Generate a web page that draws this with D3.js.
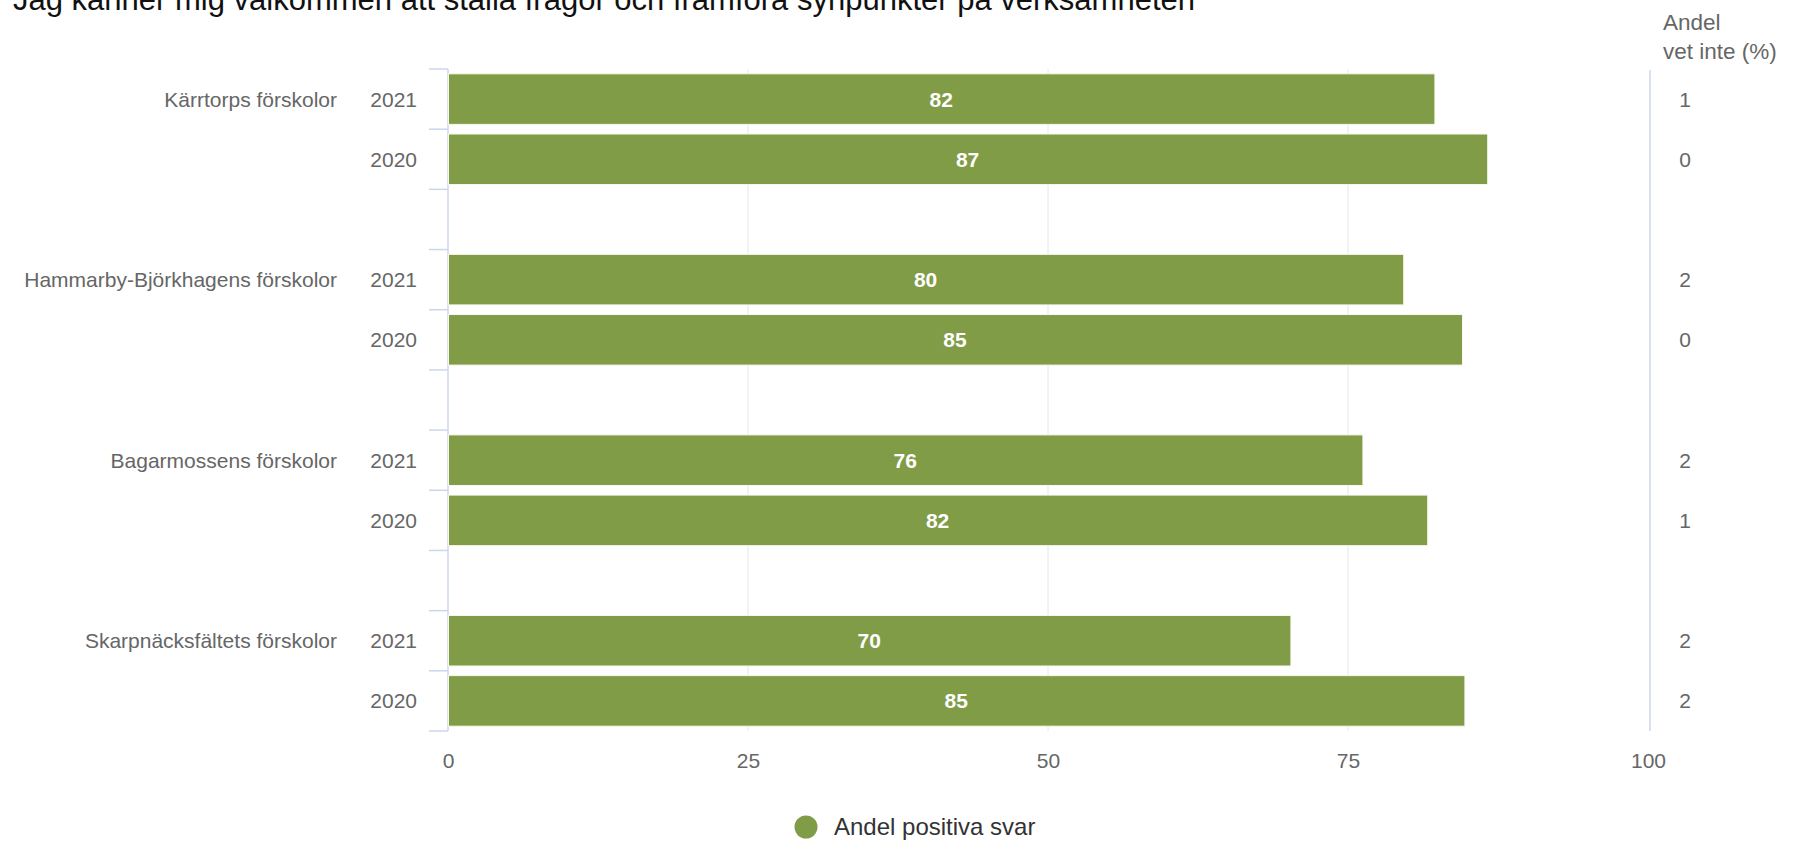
<!DOCTYPE html>
<html>
<head>
<meta charset="utf-8">
<script src="https://cdn.jsdelivr.net/npm/d3@7"></script>
<style>
  html, body { margin: 0; padding: 0; background: #fff; overflow: hidden; }
  svg { display: block; font-family: "Liberation Sans", Arial, Helvetica, sans-serif; }
</style>
</head>
<body>
<svg id="chart" width="1798" height="841"></svg>
<script>
const title = "Jag känner mig välkommen att ställa frågor och framföra synpunkter på verksamheten";
const schools = ["Kärrtorps förskolor", "Hammarby-Björkhagens förskolor", "Bagarmossens förskolor", "Skarpnäcksfältets förskolor"];
const years = ["2021", "2020"];
const positive2021 = [82.2, 79.6, 76.2, 70.2];
const positive2020 = [86.6, 84.5, 81.6, 84.7];
const dontKnow2021 = [1, 2, 2, 2];
const dontKnow2020 = [0, 0, 1, 2];
const xTicks = [0, 25, 50, 75, 100];
const seriesName = "Andel positiva svar";
const sideHeader = ["Andel", "vet inte (%)"];

(function () {
// build row table (with spacer rows between groups)
const rows = [];
schools.forEach((s, i) => {
  rows.push({ key: s + "|2021", school: s, year: years[0], value: positive2021[i], dk: dontKnow2021[i], first: true });
  rows.push({ key: s + "|2020", school: s, year: years[1], value: positive2020[i], dk: dontKnow2020[i], first: false });
  if (i < schools.length - 1) rows.push({ key: "spacer" + i, spacer: true });
});

const svg = d3.select("#chart");
const green = "#819c46";
const grey = "#666666";

const plotTop = 69, plotBottom = 731;
const x = d3.scaleLinear().domain([0, 100]).range([448, 1648]);
const y = d3.scaleBand().domain(rows.map(r => r.key)).range([plotTop, plotBottom]).paddingInner(0.16).paddingOuter(0.08);

// title (cut at top edge as in the reference)
svg.append("text").attr("x", 13).attr("y", 9.5)
  .attr("font-size", 31).attr("fill", "#111").text(title);

// grid lines
svg.append("g").selectAll("line").data(xTicks.filter(t => t > 0 && t < 100)).join("line")
  .attr("x1", d => x(d)).attr("x2", d => x(d))
  .attr("y1", plotTop).attr("y2", plotBottom)
  .attr("stroke", "#e6e6e6").attr("stroke-width", 1);

// x-axis labels via d3 axis
const xAxis = svg.append("g").attr("transform", `translate(0,${plotBottom})`)
  .call(d3.axisBottom(x).tickValues(xTicks).tickSize(0).tickPadding(22));
xAxis.select(".domain").remove();
xAxis.selectAll("text").attr("font-size", 21).attr("fill", grey)
  .attr("font-family", "Liberation Sans, Arial, sans-serif");

// left axis line and category boundary ticks
svg.append("line").attr("x1", x(0)).attr("x2", x(0)).attr("y1", plotTop).attr("y2", plotBottom)
  .attr("stroke", "#ccd6eb").attr("stroke-width", 1.5);
const step = y.step();
const boundaries = d3.range(rows.length + 1).map(i => plotTop + i * step);
svg.append("g").selectAll("line").data(boundaries).join("line")
  .attr("x1", x(0) - 19).attr("x2", x(0))
  .attr("y1", d => d).attr("y2", d => d)
  .attr("stroke", "#ccd6eb").attr("stroke-width", 1.5);

// right separator line
svg.append("line").attr("x1", x(100) + 2).attr("x2", x(100) + 2).attr("y1", plotTop + 1).attr("y2", plotBottom)
  .attr("stroke", "#ccd6eb").attr("stroke-width", 1.5);

const dataRows = rows.filter(r => !r.spacer);

// bars
svg.append("g").selectAll("rect").data(dataRows).join("rect")
  .attr("x", x(0) + 0.5)
  .attr("y", d => y(d.key))
  .attr("width", d => x(d.value) - x(0))
  .attr("height", y.bandwidth())
  .attr("fill", green).attr("stroke", "#f8f8ee").attr("stroke-width", 1);

// bar labels
svg.append("g").selectAll("text").data(dataRows).join("text")
  .attr("x", d => (x(0) + x(d.value)) / 2)
  .attr("y", d => y(d.key) + y.bandwidth() / 2)
  .attr("dy", "0.36em").attr("text-anchor", "middle")
  .attr("font-size", 21).attr("font-weight", "bold").attr("fill", "#ffffff")
  .text(d => d3.format(".0f")(d.value));

// year labels
svg.append("g").selectAll("text").data(dataRows).join("text")
  .attr("x", 417).attr("y", d => y(d.key) + y.bandwidth() / 2)
  .attr("dy", "0.36em").attr("text-anchor", "end")
  .attr("font-size", 21).attr("fill", grey).text(d => d.year);

// school labels
svg.append("g").selectAll("text").data(dataRows.filter(d => d.first)).join("text")
  .attr("x", 337).attr("y", d => y(d.key) + y.bandwidth() / 2)
  .attr("dy", "0.36em").attr("text-anchor", "end")
  .attr("font-size", 21).attr("fill", grey).text(d => d.school);

// side column: don't know values
svg.append("g").selectAll("text").data(dataRows).join("text")
  .attr("x", 1685).attr("y", d => y(d.key) + y.bandwidth() / 2)
  .attr("dy", "0.36em").attr("text-anchor", "middle")
  .attr("font-size", 21).attr("fill", grey).text(d => d.dk);

// side header
svg.append("g").selectAll("text").data(sideHeader).join("text")
  .attr("x", 1663).attr("y", (d, i) => 30 + i * 29)
  .attr("font-size", 22.5).attr("fill", grey).text(d => d);

// legend
const lg = svg.append("g");
lg.append("circle").attr("cx", 806).attr("cy", 827).attr("r", 11.5).attr("fill", green);
lg.append("text").attr("x", 834).attr("y", 835).attr("font-size", 24).attr("fill", "#333").text(seriesName);
})();
</script>
</body>
</html>
